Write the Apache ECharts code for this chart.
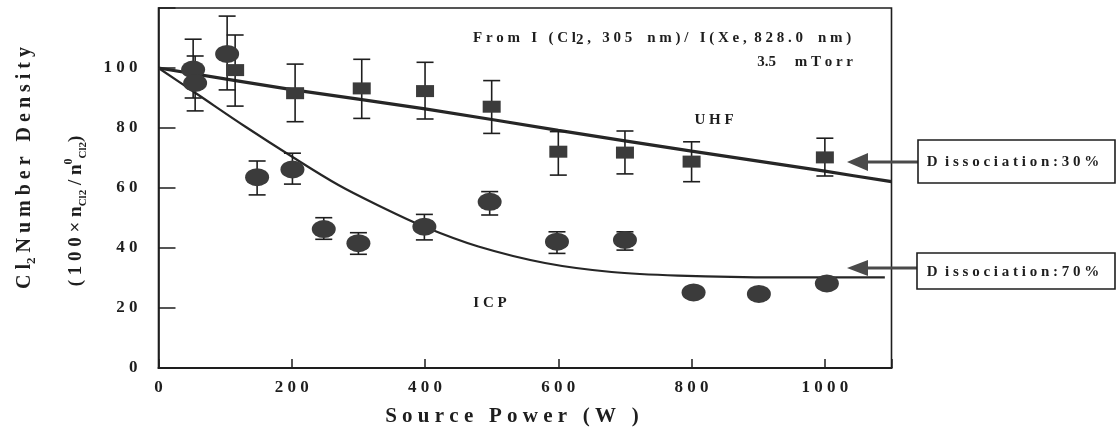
<!DOCTYPE html>
<html>
<head>
<meta charset="utf-8">
<script src="https://cdn.jsdelivr.net/npm/echarts@6/dist/echarts.min.js"></script>
<style>
  html, body { margin: 0; padding: 0; background: #fff; }
  #chart { width: 1116px; height: 434px; }
</style>
</head>
<body>
<div id="chart"></div>
<script>
// UHF discharge: source power (W) vs relative Cl2 density (%), with error limits
const uhfPower   = [115, 205, 305, 400, 500, 600, 700, 800, 1000];
const uhfDensity = [99.3, 91.6, 93.2, 92.3, 87.1, 72.1, 71.8, 68.8, 70.2];
const uhfLow     = [87.3, 82.1, 83.2, 83.0, 78.2, 64.3, 64.7, 62.1, 64.0];
const uhfHigh    = [111.0, 101.3, 102.9, 101.9, 95.8, 78.8, 79.0, 75.4, 76.6];

// ICP discharge
const icpPower   = [52, 55, 103, 148, 201, 248, 300, 399, 497, 598, 700, 803, 901, 1003];
const icpDensity = [99.5, 95.0, 104.7, 63.6, 66.2, 46.3, 41.6, 47.1, 55.4, 42.1, 42.7, 25.2, 24.7, 28.2];
const icpLow     = [90.0, 85.7, 92.7, 57.7, 61.3, 42.9, 37.9, 42.7, 51.0, 38.2, 39.3, 23.8, 24.7, 28.2];
const icpHigh    = [109.6, 104.0, 117.3, 69.0, 71.6, 50.1, 45.1, 51.2, 58.8, 45.4, 45.4, 26.6, 24.7, 28.2];

// trend curves through each data set
const uhfFitPower   = [0, 200, 400, 600, 800, 1000, 1100];
const uhfFitDensity = [100, 92.8, 86.4, 79.2, 72.3, 65.6, 62.1];
const icpFitPower   = [0, 60, 130, 200, 270, 330, 400, 480, 580, 680, 780, 930, 1090];
const icpFitDensity = [100, 91.0, 80.5, 70.5, 61.0, 54.2, 47.0, 40.5, 35.0, 32.0, 30.8, 30.2, 30.2];

// labelled tick values
const xTickLabels = [0, 200, 400, 600, 800, 1000];
const yTickLabels = [0, 20, 40, 60, 80, 100];

const SERIF = '"Liberation Serif", "Times New Roman", serif';
const INK = '#1e1e1e';
const MARK = '#3b3b3b';

// wide letter spacing, as in the typeset figure
function spaced(s) {
  return Array.from(s).join(' ');
}

function pairs(xs, ys) { return xs.map((x, i) => [x, ys[i]]); }
function bars(xs, lo, hi) { return xs.map((x, i) => [x, lo[i], hi[i]]); }

function renderErrorBar(params, api) {
  const x = api.value(0);
  const lo = api.coord([x, api.value(1)]);
  const hi = api.coord([x, api.value(2)]);
  const cap = 8.5;
  const st = { stroke: INK, lineWidth: 1.6 };
  return {
    type: 'group',
    children: [
      { type: 'line', shape: { x1: lo[0], y1: lo[1], x2: hi[0], y2: hi[1] }, style: st },
      { type: 'line', shape: { x1: lo[0] - cap, y1: lo[1], x2: lo[0] + cap, y2: lo[1] }, style: st },
      { type: 'line', shape: { x1: hi[0] - cap, y1: hi[1], x2: hi[0] + cap, y2: hi[1] }, style: st }
    ]
  };
}

const chart = echarts.init(document.getElementById('chart'), null, { renderer: 'canvas' });

const boldText = { fontFamily: SERIF, fontWeight: 'bold', fill: INK };

chart.setOption({
  animation: false,
  backgroundColor: '#ffffff',
  grid: {
    left: 158.5, top: 8, width: 733, height: 360,
    show: true, borderColor: INK, borderWidth: 1.6,
    containLabel: false, outerBoundsMode: 'none'
  },
  xAxis: {
    type: 'value', min: 0, max: 1100, interval: 200,
    axisLine: { show: true, onZero: false, lineStyle: { color: INK, width: 2 } },
    axisTick: { show: true, inside: true, length: 9, lineStyle: { color: INK, width: 1.5 } },
    axisLabel: {
      margin: 11, fontFamily: SERIF, fontWeight: 'bold', fontSize: 17, color: INK,
      formatter: v => xTickLabels.includes(v) ? spaced(String(v)) : ''
    },
    splitLine: { show: false },
    name: spaced('Source') + '   ' + spaced('Power') + '   ' + spaced('(W )'),
    nameLocation: 'middle', nameGap: 38,
    nameTextStyle: { fontFamily: SERIF, fontWeight: 'bold', fontSize: 21, color: INK, padding: [0, 26, 0, 0] }
  },
  yAxis: {
    type: 'value', min: 0, max: 120, interval: 20,
    axisLine: { show: true, onZero: false, lineStyle: { color: INK, width: 1.6 } },
    axisTick: { show: true, inside: true, length: 17, lineStyle: { color: INK, width: 1.5 } },
    axisLabel: {
      margin: 21, fontFamily: SERIF, fontWeight: 'bold', fontSize: 17, color: INK,
      formatter: v => yTickLabels.includes(v) ? spaced(String(v)) : ''
    },
    splitLine: { show: false }
  },
  series: [
    {
      name: 'UHF fit', type: 'line', data: pairs(uhfFitPower, uhfFitDensity),
      showSymbol: false, smooth: 0.3, silent: true, z: 2,
      lineStyle: { color: '#262626', width: 3.2 }
    },
    {
      name: 'ICP fit', type: 'line', data: pairs(icpFitPower, icpFitDensity),
      showSymbol: false, smooth: 0.35, silent: true, z: 2,
      lineStyle: { color: '#262626', width: 2.2 }
    },
    {
      name: 'UHF error', type: 'custom', renderItem: renderErrorBar,
      data: bars(uhfPower, uhfLow, uhfHigh), z: 3, silent: true
    },
    {
      name: 'ICP error', type: 'custom', renderItem: renderErrorBar,
      data: bars(icpPower, icpLow, icpHigh), z: 3, silent: true
    },
    {
      name: 'UHF', type: 'scatter', data: pairs(uhfPower, uhfDensity),
      symbol: 'rect', symbolSize: [18, 12], z: 4,
      itemStyle: { color: MARK, opacity: 1 }
    },
    {
      name: 'ICP', type: 'scatter', data: pairs(icpPower, icpDensity),
      symbol: 'circle', symbolSize: [24, 18], z: 4,
      itemStyle: { color: MARK, opacity: 1 }
    }
  ],
  graphic: [
    // y-axis title, two rotated lines
    {
      type: 'text', x: 25, y: 168, rotation: Math.PI / 2,
      style: {
        text: '{b|' + spaced('Cl') + '}{s|2}{b| ' + spaced('Number') + '   ' + spaced('Density') + '}',
        align: 'center', verticalAlign: 'middle',
        rich: {
          b: Object.assign({ fontSize: 20, lineHeight: 26 }, boldText),
          s: Object.assign({ fontSize: 13, lineHeight: 13, verticalAlign: 'bottom' }, boldText)
        }
      }
    },
    {
      type: 'text', x: 76, y: 211, rotation: Math.PI / 2,
      style: {
        text: '{b|( 1 0 0 × n}{s|Cl2}{b| / n}{p|0}{s|Cl2}{b|)}',
        align: 'center', verticalAlign: 'middle',
        rich: {
          b: Object.assign({ fontSize: 19, lineHeight: 26 }, boldText),
          s: Object.assign({ fontSize: 11, lineHeight: 11, verticalAlign: 'bottom' }, boldText),
          p: Object.assign({ fontSize: 12, lineHeight: 12, verticalAlign: 'top' }, boldText)
        }
      }
    },
    // measurement note
    {
      type: 'text', x: 473, y: 38,
      style: {
        text: '{b|' + spaced('From') + '   I   ' + spaced('(Cl') + '}{s|2}{b| ' + spaced(', 305') + '    ' +
              spaced('nm)/') + '   ' + spaced('I(Xe,') + '  ' + spaced('828.0') + '    ' + spaced('nm)') + '}',
        align: 'left', verticalAlign: 'middle',
        rich: {
          b: Object.assign({ fontSize: 15, lineHeight: 20 }, boldText),
          s: Object.assign({ fontSize: 15, lineHeight: 15, verticalAlign: 'bottom' }, boldText)
        }
      }
    },
    {
      type: 'text', x: 853, y: 62,
      style: Object.assign({ text: '3.5     ' + spaced('mTorr'), fontSize: 15, align: 'right', verticalAlign: 'middle' }, boldText)
    },
    {
      type: 'text', x: 714, y: 120,
      style: Object.assign({ text: spaced('UHF'), fontSize: 15, align: 'center', verticalAlign: 'middle' }, boldText)
    },
    {
      type: 'text', x: 490, y: 303,
      style: Object.assign({ text: spaced('ICP'), fontSize: 15, align: 'center', verticalAlign: 'middle' }, boldText)
    },
    // dissociation call-outs
    { type: 'line', shape: { x1: 918, y1: 162, x2: 866, y2: 162 }, style: { stroke: '#4a4a4a', lineWidth: 3 } },
    { type: 'polygon', shape: { points: [[847, 162], [868, 153], [868, 171]] }, style: { fill: '#4a4a4a' } },
    {
      type: 'rect', shape: { x: 918, y: 140, width: 197, height: 43 },
      style: { fill: '#fff', stroke: INK, lineWidth: 1.6 }
    },
    {
      type: 'text', x: 1013, y: 162,
      style: Object.assign({ text: 'D  ' + spaced('issociation:30%'), fontSize: 15, align: 'center', verticalAlign: 'middle' }, boldText)
    },
    { type: 'line', shape: { x1: 917, y1: 268, x2: 866, y2: 268 }, style: { stroke: '#4a4a4a', lineWidth: 3 } },
    { type: 'polygon', shape: { points: [[847, 268], [868, 260], [868, 276]] }, style: { fill: '#4a4a4a' } },
    {
      type: 'rect', shape: { x: 917, y: 253, width: 198, height: 36 },
      style: { fill: '#fff', stroke: INK, lineWidth: 1.6 }
    },
    {
      type: 'text', x: 1013, y: 272,
      style: Object.assign({ text: 'D  ' + spaced('issociation:70%'), fontSize: 15, align: 'center', verticalAlign: 'middle' }, boldText)
    }
  ]
});
</script>
</body>
</html>
